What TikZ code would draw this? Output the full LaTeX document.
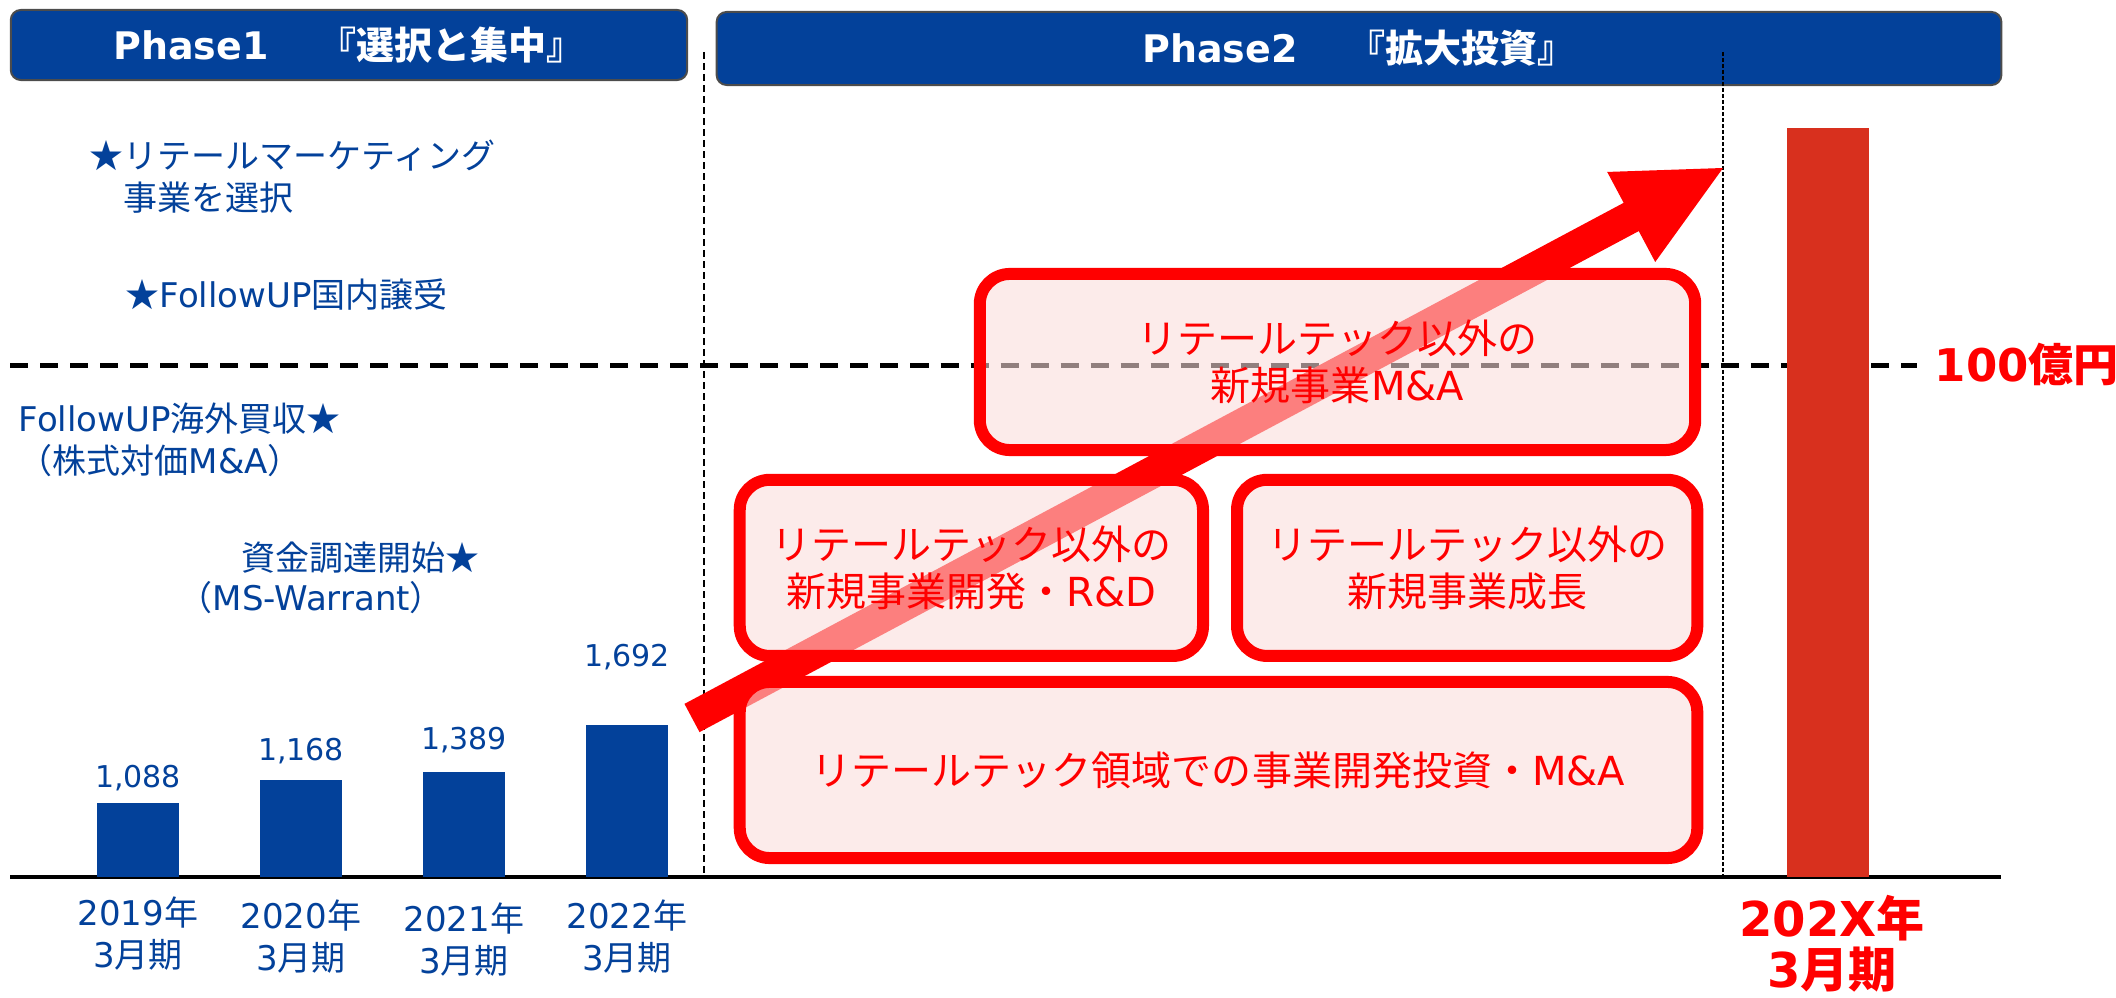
\documentclass[tikz,border=0pt]{standalone}
\usepackage{fontspec}
\setmainfont{Noto Sans CJK JP}
\newfontfamily\vdfont{DejaVu Sans}
\newcommand{\latn}[1]{{\vdfont #1}}
\usepackage{tikz}
\usetikzlibrary{positioning,calc}
\definecolor{navy}{RGB}{3,65,154}
\definecolor{pred}{RGB}{255,0,0}
\definecolor{pinkfill}{RGB}{250,220,218}
\definecolor{barred}{RGB}{216,48,30}
\tikzset{%
phasebox/.style={rectangle, rounded corners=0.1cm, draw=black!70, line width=0.02cm, fill=navy, text=white, inner sep=0pt, font=\bfseries\fontsize{10.8pt}{13pt}\selectfont},
memo/.style={text=navy, align=left, inner sep=0pt, anchor=west, font=\fontsize{9.67pt}{12pt}\selectfont},
salesbar/.style={fill=navy, minimum width=0.81cm, inner sep=0pt, outer sep=0pt, anchor=south},
salesval/.style={text=navy, inner sep=0pt, font=\vdfont\fontsize{8.54pt}{10pt}\selectfont},
fyear/.style={text=navy, align=center, inner sep=0pt, font=\fontsize{9.67pt}{11.95pt}\selectfont},
invbox/.style={rectangle, rounded corners=0.3cm, draw=pred, line width=0.12cm, fill=pinkfill, fill opacity=0.58, text opacity=1, text=pred, align=center, inner sep=0pt, minimum height=1.76cm, font=\fontsize{11.38pt}{13.37pt}\selectfont},
goal/.style={text=pred, inner sep=0pt, font=\bfseries\fontsize{12.8pt}{15pt}\selectfont},
hdash/.style={draw=black, line width=0.05cm, dash pattern=on 0.18cm off 0.12cm},
vdash/.style={draw=black, line width=0.02cm, dash pattern=on 0.07cm off 0.04cm},
xaxisline/.style={draw=black, line width=0.04cm},
bigarrow/.style={fill=pred}
}
\begin{document}
\begin{tikzpicture}[x=0.01cm, y=-0.01cm, node distance=0.2cm]
		\useasboundingbox (0,0) rectangle (2116,998);
		\node[phasebox, minimum width=6.76cm, minimum height=0.70cm] (ph1) at (349,45) {\latn{Phase1}\hspace{0.5cm}『選択と集中』};
		\node[phasebox, minimum width=12.84cm, minimum height=0.73cm] (ph2) at (1359,48.5) {\latn{Phase2}\hspace{0.5cm}『拡大投資』};
	
		\draw[vdash] (704,52) -- (704,877);
		\draw[vdash, dash pattern=on 0.04cm off 0.02cm] (1723,52) -- (1723,877);
		\draw[hdash] (10,366) -- (1917,366);
		\draw[xaxisline] (10,877) -- (2001,877);
		
		\node[salesbar, minimum height=0.74cm] (b19) at (138,877) {};
		\node[salesbar, minimum height=0.97cm] (b20) at (301,877) {};
		\node[salesbar, minimum height=1.05cm] (b21) at (464,877) {};
		\node[salesbar, minimum height=1.52cm] (b22) at (627,877) {};
		
		\coordinate (arrtail) at (692,718);
		\coordinate (arrtip) at (1723,168);
		\coordinate (arrbase) at ($(arrtip)!1.04cm!(arrtail)$);
		\fill[bigarrow] ($(arrtail)!0.16cm!90:(arrtip)$) -- ($(arrbase)!0.16cm!90:(arrtip)$) -- ($(arrbase)!0.51cm!90:(arrtip)$) -- (arrtip) -- ($(arrbase)!0.51cm!-90:(arrtip)$) -- ($(arrbase)!0.16cm!-90:(arrtip)$) -- ($(arrtail)!0.16cm!-90:(arrtip)$) -- cycle;
		
		\node[invbox, minimum width=9.57cm] (boxD) at (1218.5,770) {リテールテック領域での事業開発投資・\latn{M\&A}};
		\node[invbox, minimum width=4.63cm] (boxB) [above=0.14cm of boxD.north west, anchor=south west] {リテールテック以外の\\新規事業開発・\latn{R\&D}};
		\node[invbox, minimum width=4.60cm] (boxC) [right=0.22cm of boxB] {リテールテック以外の\\新規事業成長};
		\node[invbox, minimum width=7.15cm] (boxA) at (1337.5,362) {リテールテック以外の\\新規事業\latn{M\&A}};
		
		\node[fill=barred, minimum width=0.82cm, minimum height=7.49cm, inner sep=0pt, outer sep=0pt, anchor=south] (target) at (1828,877) {};
		\node[goal, anchor=west] (oku) at (1934,364) {\latn{100}億円};
		\node[goal, align=center, font=\bfseries\fontsize{13.66pt}{14.5pt}\selectfont] (fyX) at (1832,944) {\latn{202X}年\\\latn{3}月期};
		
		\node[memo] (m1) at (89,176.5) {★リテールマーケティング\\　事業を選択};
		\node[memo] (m2) at (125,295) {★\latn{FollowUP}国内譲受};
		\node[memo] (m3) at (18,440) {\latn{FollowUP}海外買収★\\（株式対価\latn{M\&A}）};
		\node[memo] (m4) at (241,558) {資金調達開始★};
		\node[memo] (m5) at (178,598) {（\latn{MS-Warrant}）};
		
		\node[salesval] (v19) at (138,778) {1,088};
		\node[salesval] (v20) at (301,751) {1,168};
		\node[salesval] (v21) at (464,740) {1,389};
		\node[salesval] (v22) at (627,657) {1,692};
		
		\node[fyear] (y19) at (138,934) {\latn{2019}年\\\latn{3}月期};
		\node[fyear] (y20) at (301,937) {\latn{2020}年\\\latn{3}月期};
		\node[fyear] (y21) at (464,940) {\latn{2021}年\\\latn{3}月期};
		\node[fyear] (y22) at (627,937) {\latn{2022}年\\\latn{3}月期};
	\end{tikzpicture}
\end{document}
